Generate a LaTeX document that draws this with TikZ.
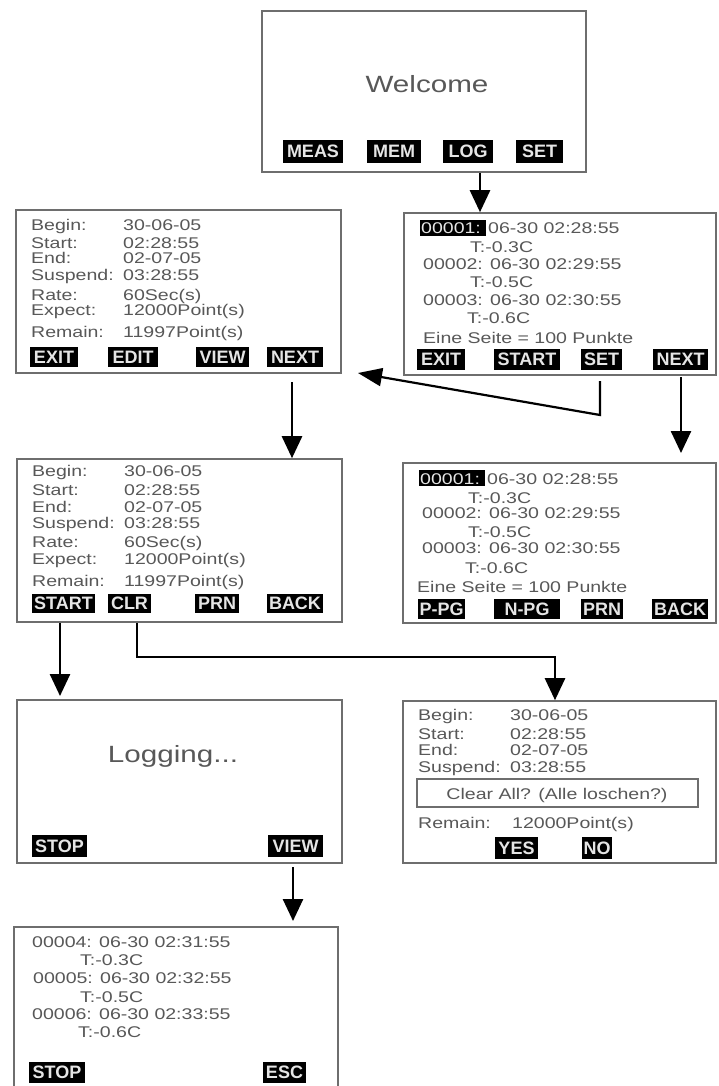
\documentclass[tikz,border=0pt]{standalone}
\usepackage{fontspec}
\newfontfamily\lcdfont{Liberation Sans}[FakeStretch=1.26]
\newfontfamily\btnfont{Liberation Sans}
\usetikzlibrary{arrows.meta,fit}
\definecolor{txtgray}{HTML}{585858}
\definecolor{framegray}{HTML}{6E6E6E}
\newcommand\kv[2]{\makebox[92pt][l]{#1}#2}
% button: name, x1, y1, x2, y2, text
\newcommand\btnnode[6]{\node[btn, minimum width={(#4-#2)*1pt}, minimum height={(#5-#3)*1pt}] (#1) at ({(#2+#4)/2},{(#3+#5)/2}) {#6};}
\begin{document}
\begin{tikzpicture}[x=1pt,y=-1pt,
  screen/.style={draw=framegray, line width=1.6pt, inner sep=0pt, rectangle},
  btn/.style={fill=black, text=white!90!black, inner sep=0pt, anchor=center, font=\btnfont\bfseries\fontsize{18}{18}\selectfont},
  hlbox/.style={fill=black, inner sep=0pt},
  ln/.style={anchor=base west, inner sep=0pt, text=txtgray, font=\lcdfont\fontsize{15.5}{17}\selectfont},
  lnw/.style={ln, text=white!90!black},
  big/.style={anchor=base, inner sep=0pt, text=txtgray, font=\lcdfont\fontsize{23.5}{26}\selectfont},
  qbox/.style={draw=framegray, line width=1.3pt, inner sep=0pt},
  arr/.style={line width=2.6pt, line join=miter, -{Triangle[width=20pt,length=22pt]}},
  arrthin/.style={line width=2.2pt, line join=miter, -{Triangle[width=18pt,length=24pt]}}
]
\useasboundingbox[fill=white] (0,0) rectangle (718,1086);

% ---------------- Welcome
\node[screen, fit={(262,11) (586,172)}] (welcome) {};
\node[big] (welcomet) at (427,93) {Welcome};
\btnnode{wMEAS}{283}{140}{343}{163}{MEAS}
\btnnode{wMEM}{367}{140}{421}{163}{MEM}
\btnnode{wLOG}{443}{140}{493}{163}{LOG}
\btnnode{wSET}{516}{140}{563}{163}{SET}

% ---------------- Left box 1
\node[screen, fit={(16,210) (341,373)}] (lb1) {};
\node[ln] (lb1a) at (31,230) {\kv{Begin:}{30-06-05}};
\node[ln] (lb1b) at (31,248) {\kv{Start:}{02:28:55}};
\node[ln] (lb1c) at (31,263) {\kv{End:}{02-07-05}};
\node[ln] (lb1d) at (31,280) {\kv{Suspend:}{03:28:55}};
\node[ln] (lb1e) at (31,300) {\kv{Rate:}{60Sec(s)}};
\node[ln] (lb1f) at (31,315) {\kv{Expect:}{12000Point(s)}};
\node[ln] (lb1g) at (31,337) {\kv{Remain:}{11997Point(s)}};
\btnnode{lb1EXIT}{30}{347}{78}{367}{EXIT}
\btnnode{lb1EDIT}{108}{347}{158}{367}{EDIT}
\btnnode{lb1VIEW}{196}{347}{249}{367}{VIEW}
\btnnode{lb1NEXT}{267}{347}{323}{367}{NEXT}

% ---------------- Right box 1
\node[screen, fit={(404,213) (716,375)}] (rb1) {};
\node[hlbox, fit={(420,220) (486,236)}] (rb1hl) {};
\node[lnw] (rb1a0) at (421,233) {00001:};
\node[ln] (rb1a) at (488,233) {06-30 02:28:55};
\node[ln] (rb1b) at (470,252) {T:-0.3C};
\node[ln] (rb1c) at (423,269) {00002: 06-30 02:29:55};
\node[ln] (rb1d) at (470,287) {T:-0.5C};
\node[ln] (rb1e) at (423,305) {00003: 06-30 02:30:55};
\node[ln] (rb1f) at (467,323) {T:-0.6C};
\node[ln] (rb1g) at (423,343) {Eine Seite = 100 Punkte};
\btnnode{rb1EXIT}{417}{349}{465}{370}{EXIT}
\btnnode{rb1START}{494}{349}{560}{370}{START}
\btnnode{rb1SET}{581}{349}{622}{370}{SET}
\btnnode{rb1NEXT}{653}{349}{708}{370}{NEXT}

% ---------------- Left box 2
\node[screen, fit={(17,459) (342,622)}] (lb2) {};
\node[ln] (lb2a) at (32,476) {\kv{Begin:}{30-06-05}};
\node[ln] (lb2b) at (32,495) {\kv{Start:}{02:28:55}};
\node[ln] (lb2c) at (32,512) {\kv{End:}{02-07-05}};
\node[ln] (lb2d) at (32,528) {\kv{Suspend:}{03:28:55}};
\node[ln] (lb2e) at (32,547) {\kv{Rate:}{60Sec(s)}};
\node[ln] (lb2f) at (32,564) {\kv{Expect:}{12000Point(s)}};
\node[ln] (lb2g) at (32,586) {\kv{Remain:}{11997Point(s)}};
\btnnode{lb2START}{32}{594}{95}{613}{START}
\btnnode{lb2CLR}{108}{594}{151}{613}{CLR}
\btnnode{lb2PRN}{195}{594}{239}{613}{PRN}
\btnnode{lb2BACK}{267}{594}{323}{613}{BACK}

% ---------------- Right box 2
\node[screen, fit={(403,463) (716,623)}] (rb2) {};
\node[hlbox, fit={(419,470) (485,486)}] (rb2hl) {};
\node[lnw] (rb2a0) at (420,484) {00001:};
\node[ln] (rb2a) at (487,484) {06-30 02:28:55};
\node[ln] (rb2b) at (468,503) {T:-0.3C};
\node[ln] (rb2c) at (422,518) {00002: 06-30 02:29:55};
\node[ln] (rb2d) at (468,537) {T:-0.5C};
\node[ln] (rb2e) at (422,553) {00003: 06-30 02:30:55};
\node[ln] (rb2f) at (465,573) {T:-0.6C};
\node[ln] (rb2g) at (417,592) {Eine Seite = 100 Punkte};
\btnnode{rb2PPG}{418}{599}{465}{619}{P-PG}
\btnnode{rb2NPG}{494}{599}{560}{619}{N-PG\hspace{8pt}}
\btnnode{rb2PRN}{581}{599}{623}{619}{PRN}
\btnnode{rb2BACK}{652}{599}{708}{619}{BACK}

% ---------------- Logging box
\node[screen, fit={(17,700) (342,863)}] (logb) {};
\node[big] (logt) at (173,762) {Logging...};
\btnnode{logSTOP}{32}{835}{87}{857}{STOP}
\btnnode{logVIEW}{268}{835}{323}{857}{VIEW}

% ---------------- Right box 3 (clear)
\node[screen, fit={(403,701) (716,863)}] (rb3) {};
\node[ln] (rb3a) at (418,720) {\kv{Begin:}{30-06-05}};
\node[ln] (rb3b) at (418,739) {\kv{Start:}{02:28:55}};
\node[ln] (rb3c) at (418,755) {\kv{End:}{02-07-05}};
\node[ln] (rb3d) at (418,772) {\kv{Suspend:}{03:28:55}};
\node[qbox, fit={(417,779) (698,807)}] (rb3q) {};
\node[ln, anchor=base] (rb3qt) at (557,799) {Clear All? (Alle loschen?)};
\node[ln] (rb3e) at (418,828) {\makebox[94pt][l]{Remain:}12000Point(s)};
\btnnode{rb3YES}{495}{837}{538}{859}{YES}
\btnnode{rb3NO}{582}{837}{612}{859}{NO}

% ---------------- Bottom box
\node[screen, fit={(14,927) (338,1100)}] (botb) {};
\node[ln] (bota) at (32,947) {00004: 06-30 02:31:55};
\node[ln] (botb1) at (80,965) {T:-0.3C};
\node[ln] (botc) at (33,983) {00005: 06-30 02:32:55};
\node[ln] (botd) at (80,1002) {T:-0.5C};
\node[ln] (bote) at (32,1019) {00006: 06-30 02:33:55};
\node[ln] (botf) at (78,1037) {T:-0.6C};
\btnnode{botSTOP}{29}{1062}{85}{1083}{STOP}
\btnnode{botESC}{263}{1062}{306}{1083}{ESC}

% ---------------- connectors
\coordinate (c1) at (480,0);
\draw[arr] (welcome.south -| c1) -- (rb1.north -| c1);

\coordinate (s2) at (600,381);
\coordinate (k2) at (600,415);
\coordinate (t2) at (358,373);
\draw[arrthin] (s2) -- (k2) -- (t2);

\coordinate (s3) at (681,377);
\coordinate (t3) at (681,453);
\draw[arr] (s3) -- (t3);

\coordinate (s4) at (292,382);
\draw[arr] (s4) -- (lb2.north -| s4);

\coordinate (s5) at (60,623);
\coordinate (t5) at (60,696);
\draw[arr] (s5) -- (t5);

\coordinate (s6) at (137,623);
\coordinate (k6) at (137,657);
\coordinate (e6) at (555,0);
\draw[arr] (s6) -- (k6) -| (rb3.north -| e6);

\coordinate (s7) at (293,867);
\coordinate (t7) at (293,921);
\draw[arr] (s7) -- (t7);
\end{tikzpicture}
\end{document}
